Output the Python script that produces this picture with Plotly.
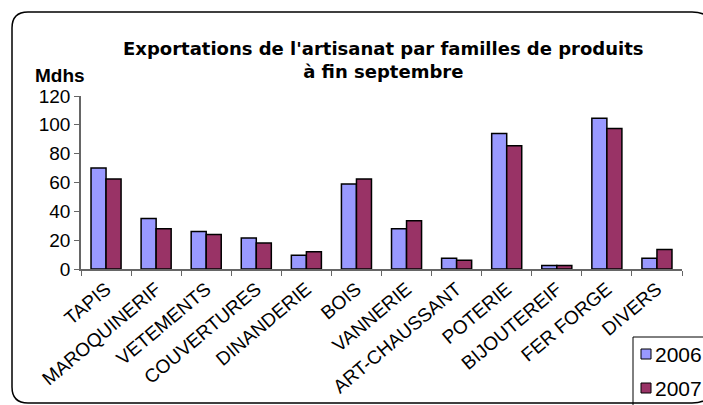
import plotly.graph_objects as go

categories = ["TAPIS", "MAROQUINERIF", "VETEMENTS", "COUVERTURES", "DINANDERIE",
              "BOIS", "VANNERIE", "ART-CHAUSSANT", "POTERIE", "BIJOUTEREIF",
              "FER FORGE", "DIVERS"]
values_2006 = [70, 35, 26, 21.5, 9.5, 59, 28, 7.5, 94, 2.5, 104.5, 7.5]
values_2007 = [62.5, 28, 24, 18, 12, 62.5, 33.5, 6, 85.5, 2.5, 97.5, 13.5]
series_names = ["2006", "2007"]
series_colors = ["#9999FF", "#993366"]
y_ticks = [0, 20, 40, 60, 80, 100, 120]

W, H = 703, 405
L, R, T, B = 81, 682, 96, 269  # plot area in pixels


def px(x):
    return (x - L) / (R - L)


def py(y):
    return (B - y) / (B - T)


fig = go.Figure()
fig.add_trace(go.Bar(x=categories, y=values_2006, name=series_names[0], showlegend=False,
                     marker=dict(color=series_colors[0], line=dict(color="#000000", width=1.5))))
fig.add_trace(go.Bar(x=categories, y=values_2007, name=series_names[1], showlegend=False,
                     marker=dict(color=series_colors[1], line=dict(color="#000000", width=1.5))))

# rounded border (pixel coordinates)
x0, x1, y0, y1, r = 12, 714, 12, 403, 22
path = (f"M {px(x0+16)},{py(y0)} L {px(x1-r)},{py(y0)} Q {px(x1)},{py(y0)} {px(x1)},{py(y0+r)} "
        f"L {px(x1)},{py(y1-r)} Q {px(x1)},{py(y1)} {px(x1-r)},{py(y1)} "
        f"L {px(x0+16)},{py(y1)} Q {px(x0)},{py(y1)} {px(x0)},{py(y1-16)} "
        f"L {px(x0)},{py(y0+16)} Q {px(x0)},{py(y0)} {px(x0+16)},{py(y0)} Z")

shapes = [
    # legend box
    dict(type="rect", xref="paper", yref="paper", x0=px(633), x1=px(740), y0=py(337), y1=py(420),
         fillcolor="white", line=dict(color="#000000", width=1), layer="above"),
]
annotations = [
    dict(text="<b>Exportations de l'artisanat par familles de produits<br>à fin septembre</b>",
         xref="paper", yref="paper", x=px(383), y=py(60), xanchor="center", yanchor="middle",
         showarrow=False, font=dict(size=18, family="DejaVu Sans"), align="center"),
    dict(text="<b>Mdhs</b>", xref="paper", yref="paper", x=px(33), y=py(75),
         xanchor="left", yanchor="middle", showarrow=False, font=dict(size=19)),
]
for i, (name, col) in enumerate(zip(series_names, series_colors)):
    cy = 354 + i * 34
    shapes.append(dict(type="rect", xref="paper", yref="paper",
                       x0=px(641), x1=px(651), y0=py(cy - 5), y1=py(cy + 5),
                       fillcolor=col, line=dict(color="#000000", width=1), layer="above"))
    annotations.append(dict(text=name, xref="paper", yref="paper", x=px(653), y=py(cy),
                            xanchor="left", yanchor="middle", showarrow=False,
                            font=dict(size=21)))
shapes.append(dict(type="path", xref="paper", yref="paper", path=path,
                   line=dict(color="#000000", width=1.5), layer="above"))

fig.update_layout(
    width=W, height=H,
    margin=dict(l=L, r=W - R, t=T, b=H - B, autoexpand=False),
    paper_bgcolor="white", plot_bgcolor="white",
    font=dict(family="Liberation Sans, Arial", color="#000000"),
    barmode="group", bargap=0.4, bargroupgap=0,
    showlegend=False,
    shapes=shapes,
    annotations=annotations,
)
fig.update_xaxes(type="category", tickson="boundaries", ticks="outside", ticklen=5,
                 tickcolor="#666666", showline=True, linecolor="#666666", linewidth=1.5,
                 tickangle=-40, tickfont=dict(size=19), showgrid=False)
fig.update_yaxes(range=[0, 120], tickvals=y_ticks, ticks="outside", ticklen=5,
                 tickcolor="#666666", showline=True, linecolor="#666666", linewidth=1.5,
                 tickfont=dict(size=19), showgrid=False, zeroline=False)

fig.write_html("out.html", config={"displayModeBar": False},
               post_script="document.body.style.margin='0';document.body.style.overflow='hidden';")
